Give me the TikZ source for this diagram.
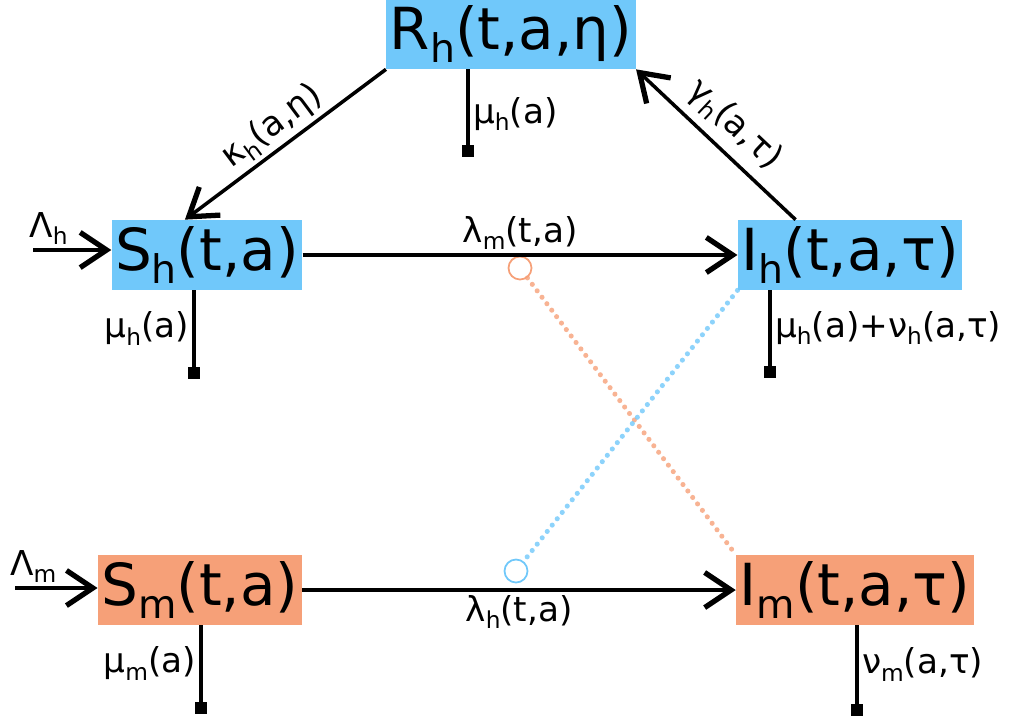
\documentclass[tikz,border=0pt]{standalone}
\usepackage{fontspec}
\setmainfont{DejaVu Sans}
\usepackage{graphicx}
\usepackage{tikz}
\usetikzlibrary{arrows.meta, positioning}
\definecolor{hostblue}{RGB}{112,200,250}
\definecolor{vecorange}{RGB}{246,160,120}
\newcommand{\lo}[1]{\raisebox{-0.22em}{\scalebox{0.68}{#1}}}

\begin{document}
\begin{tikzpicture}[
  x=0.02cm, y=-0.02cm,
  comp/.style={rectangle, inner xsep=2pt, inner ysep=0pt,
               minimum height=1.4cm, font=\fontsize{33}{40}\selectfont},
  lbl/.style={font=\fontsize{19.5}{23}\selectfont, inner sep=2pt},
  flow/.style={-{Straight Barb[length=15pt, width=20pt, line width=3pt]}, line width=2pt},
  loss/.style={line width=1.8pt},
  sink/.style={rectangle, fill=black, inner sep=0pt, minimum size=0.24cm},
  bite/.style={circle, draw, line width=1pt, inner sep=0pt, minimum size=0.46cm},
  contact/.style={line width=2.9pt, line cap=round, dash pattern=on 0pt off 4.6pt, opacity=0.8}
]
\useasboundingbox (0,0) rectangle (1013,721);

% compartments
\node[comp, fill=hostblue] (rh) at (511,34) {R\lo{h}(t,a,η)};
\node[comp, fill=hostblue] (sh) at (207,255) {S\lo{h}(t,a)};
\node[comp, fill=hostblue] (ih) at (850,255) {I\lo{h}(t,a,τ)};
\node[comp, fill=vecorange] (sm) at (200,590) {S\lo{m}(t,a)};
\node[comp, fill=vecorange] (im) at (855,590) {I\lo{m}(t,a,τ)};

% deaths
\node[sink] (rhout) at (468,151) {};
\node[sink] (shout) at (194,373) {};
\node[sink] (ihout) at (770,372) {};
\node[sink] (smout) at (201,708) {};
\node[sink] (imout) at (857,710) {};

% recruitment
\coordinate (shin) at (33,250);
\coordinate (smin) at (15,588);

% bites
\node[bite, draw=vecorange] (biteh) at (520,268) {};
\node[bite, draw=hostblue] (bitem) at (516,571) {};

\draw[contact, vecorange] (biteh) -- (im.north west);
\draw[contact, hostblue] (ih.south west) -- (bitem);

\draw[flow] (shin) -- node[lbl, above, pos=0.2] {Λ\lo{h}} (shin -| sh.west);
\draw[flow] (smin) -- node[lbl, above, pos=0.22] {Λ\lo{m}} (smin -| sm.west);
\draw[flow] (sh) -- node[lbl, above] {λ\lo{m}(t,a)} (ih);
\draw[flow] (sm) -- node[lbl, below] {λ\lo{h}(t,a)} (im);
\draw[flow] (rh.south west) -- node[lbl, above, sloped] {κ\lo{h}(a,η)} (sh.122);
\draw[flow] (ih.147) -- node[lbl, above=3pt, sloped] {γ\lo{h}(a,τ)} (rh.south east);

\draw[loss] (rh.south -| rhout) -- node[lbl, right, yshift=-4pt] {μ\lo{h}(a)} (rhout);
\draw[loss] (sh.south -| shout) -- node[lbl, left] {μ\lo{h}(a)} (shout);
\draw[loss] (ih.south -| ihout) -- node[lbl, right] {μ\lo{h}(a)+ν\lo{h}(a,τ)} (ihout);
\draw[loss] (sm.south -| smout) -- node[lbl, left] {μ\lo{m}(a)} (smout);
\draw[loss] (im.south -| imout) -- node[lbl, right] {ν\lo{m}(a,τ)} (imout);

\end{tikzpicture}
\end{document}
